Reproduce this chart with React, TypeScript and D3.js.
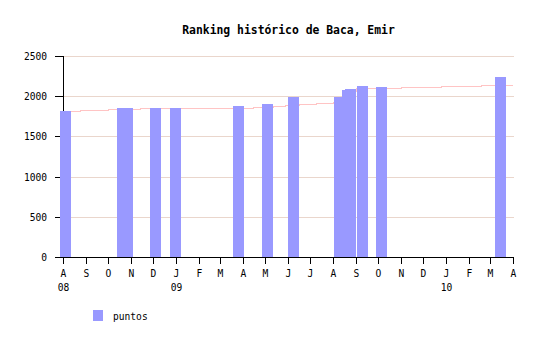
import React from "react";
import * as d3 from "d3";

const barDates = [
  "2008-08-05", "2008-10-20", "2008-10-27", "2008-12-04", "2008-12-31",
  "2009-03-26", "2009-05-04", "2009-06-08", "2009-08-10", "2009-08-20",
  "2009-08-24", "2009-09-10", "2009-10-05", "2010-03-15",
];
const barValues = [1816, 1853, 1853, 1853, 1853, 1878, 1903, 1990, 1990, 2077, 2090, 2127, 2114, 2239];

const trendDates = [
  "2008-08-01", "2008-08-24", "2008-10-01", "2008-11-14", "2009-04-15",
  "2009-05-13", "2009-05-29", "2009-06-17", "2009-07-09", "2009-08-01",
  "2009-08-20", "2009-09-02", "2009-11-01", "2009-12-25", "2010-02-17", "2010-04-01",
];
const trendValues = [1816, 1828, 1841, 1853, 1866, 1878, 1890, 1903, 1915, 1928, 2060, 2098, 2111, 2123, 2139, 2139];

const yTicks = [0, 500, 1000, 1500, 2000, 2500];
const monthLetters = ["J", "F", "M", "A", "M", "J", "J", "A", "S", "O", "N", "D"];
const title = "Ranking histórico de Baca, Emir";
const legendLabel = "puntos";

const parse = d3.timeParse("%Y-%m-%d");
const FONT = "'DejaVu Sans Mono', monospace";

export default function App() {
  const x = d3
    .scaleTime()
    .domain([parse("2008-08-01")!, parse("2010-04-01")!])
    .range([63, 513]);
  const y = d3.scaleLinear().domain([0, 2500]).range([257, 56]);
  const months = d3.timeMonth.range(parse("2008-08-01")!, d3.timeDay.offset(parse("2010-04-01")!, 1));
  const barW = 11;

  const trendPts = trendDates.map((d, i) => [x(parse(d)!), y(trendValues[i])] as [number, number]);
  const trendPath = d3.line().curve(d3.curveStepAfter)(trendPts) || "";

  return (
    <svg
      width={540}
      height={340}
      style={{ position: "absolute", left: 0, top: 0, background: "#fff" }}
      shapeRendering="crispEdges"
    >
      <text x={288.5} y={34} textAnchor="middle" fontFamily={FONT} fontWeight="bold" fontSize={11.4} fill="#000">
        {title}
      </text>
      {yTicks.map((t) =>
        t > 0 ? (
          <line key={"g" + t} x1={63} x2={514} y1={Math.round(y(t)) + 0.5} y2={Math.round(y(t)) + 0.5} stroke="#ead6cc" />
        ) : null
      )}
      <path d={trendPath} fill="none" stroke="#ffc4c4" strokeWidth={1} transform="translate(0,0.5)" />
      {/* y axis */}
      <line x1={63.5} x2={63.5} y1={56} y2={257} stroke="#000" />
      {yTicks.map((t) => (
        <g key={"yt" + t}>
          <line x1={55} x2={63} y1={Math.round(y(t)) + 0.5} y2={Math.round(y(t)) + 0.5} stroke="#000" />
          <text x={47} y={Math.round(y(t)) + 4} textAnchor="end" fontFamily={FONT} fontSize={9.6} fill="#000">
            {t}
          </text>
        </g>
      ))}
      {barDates.map((d, i) => {
        const cx = x(parse(d)!);
        const top = Math.round(y(barValues[i]));
        return (
          <rect key={"b" + i} x={Math.round(cx - barW / 2)} y={top} width={barW} height={257 - top} fill="#9999ff" />
        );
      })}
      {/* x axis */}
      <line x1={63} x2={514} y1={257.5} y2={257.5} stroke="#000" />
      {months.map((m, i) => {
        const px = Math.round(x(m)) + 0.5;
        const showYear = i === 0 || m.getMonth() === 0;
        return (
          <g key={"xt" + i}>
            <line x1={px} x2={px} y1={257} y2={264} stroke="#000" />
            <text x={px} y={277} textAnchor="middle" fontFamily={FONT} fontSize={9.6} fill="#000">
              {monthLetters[m.getMonth()]}
            </text>
            {showYear ? (
              <text x={px} y={291} textAnchor="middle" fontFamily={FONT} fontSize={9.6} fill="#000">
                {d3.timeFormat("%y")(m)}
              </text>
            ) : null}
          </g>
        );
      })}
      {/* legend */}
      <rect x={93} y={310} width={10} height={11} fill="#9999ff" />
      <text x={113} y={320} fontFamily={FONT} fontSize={9.6} fill="#000">
        {legendLabel}
      </text>
    </svg>
  );
}
